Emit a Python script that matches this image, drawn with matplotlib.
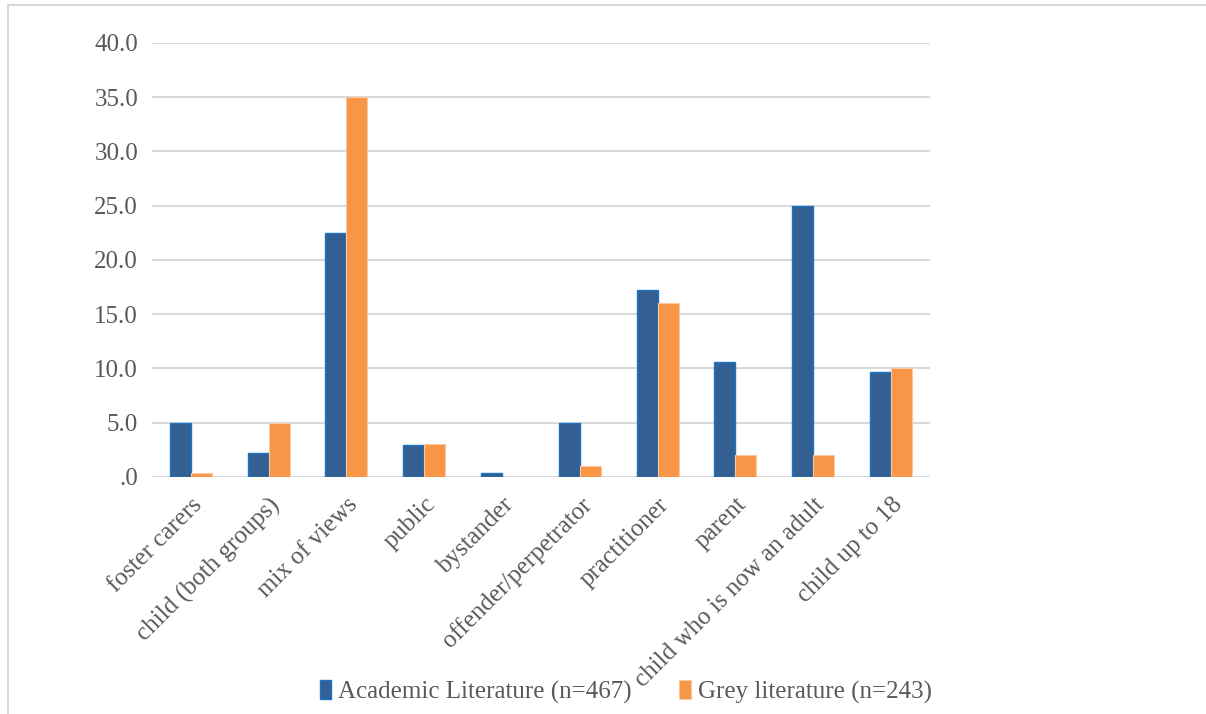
import matplotlib
matplotlib.use("Agg")
import matplotlib.pyplot as plt
import numpy as np
from matplotlib.lines import Line2D
from matplotlib.ticker import FuncFormatter

categories = ["foster carers", "child (both groups)", "mix of views", "public",
              "bystander", "offender/perpetrator", "practitioner", "parent",
              "child who is now an adult", "child up to 18"]
academic = [5.0, 2.2, 22.5, 2.9, 0.4, 5.0, 17.2, 10.6, 25.0, 9.7]
grey = [0.4, 5.0, 35.0, 3.0, 0.0, 1.0, 16.0, 2.0, 2.0, 10.0]
series_names = ["Academic Literature (n=467)", "Grey literature (n=243)"]

plt.rcParams['font.family'] = ['Liberation Serif', 'DejaVu Serif']
txt = '#595959'
fs = 18

fig = plt.figure(figsize=(12.06, 7.14), dpi=100)
ax = fig.add_axes([0.126, 0.332, 0.645, 0.608])

x = np.arange(len(categories))
w = 0.27
ax.bar(x - w/2, academic, w, color='#345F92', edgecolor='#1B75C4', linewidth=1.0,
       label=series_names[0], zorder=3)
ax.bar(x + w/2, grey, w, color='#F79646', edgecolor='#FAC9A0', linewidth=0.8,
       label=series_names[1], zorder=3)

ax.set_xlim(-0.5, len(categories) - 0.5)
ax.set_ylim(0, 40)
ax.set_yticks(np.arange(0, 41, 5))
ax.yaxis.set_major_formatter(FuncFormatter(lambda v, p: '.0' if v == 0 else f'{v:.1f}'))
ax.grid(axis='y', color='#D9D9D9', linewidth=1.5, zorder=0)
for s in ax.spines.values():
    s.set_visible(False)
ax.tick_params(axis='both', length=0, labelsize=fs, labelcolor=txt)
ax.tick_params(axis='y', pad=10)
ax.set_xticks(x)
ax.set_xticklabels(categories, rotation=45, ha='right', rotation_mode='anchor')
ax.tick_params(axis='x', pad=12)

leg = fig.legend(loc='center', bbox_to_anchor=(0.519, 0.031), ncol=2, frameon=False,
                 fontsize=fs, handlelength=0.45, handleheight=0.75, handletextpad=0.3,
                 columnspacing=1.9, labelcolor=txt)

# outer chart border
fig.add_artist(Line2D([8/1206, 1], [1 - 5/714, 1 - 5/714], transform=fig.transFigure,
                      color='#D9D9D9', linewidth=1.5))
fig.add_artist(Line2D([8/1206, 8/1206], [0, 1 - 5/714], transform=fig.transFigure,
                      color='#D9D9D9', linewidth=1.5))

fig.savefig('out.png', dpi=100)
